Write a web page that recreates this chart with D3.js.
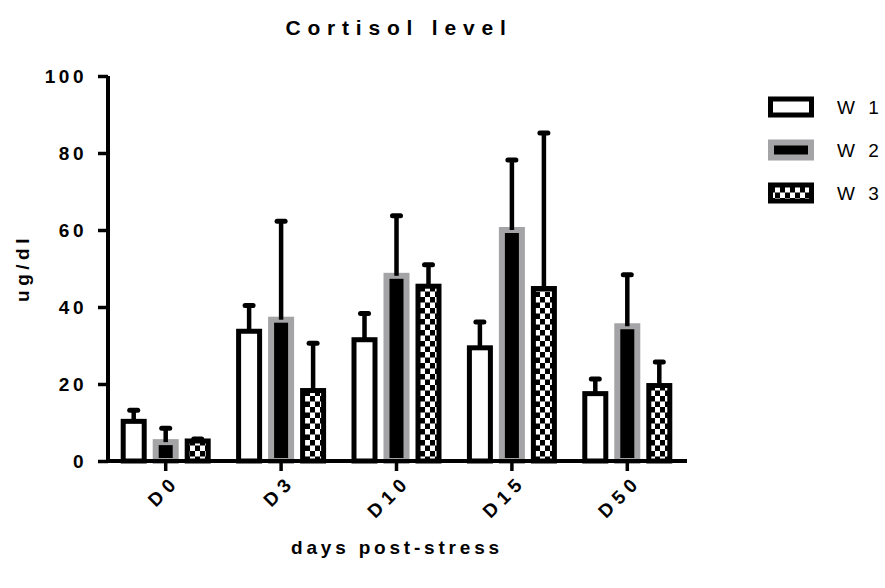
<!DOCTYPE html>
<html>
<head>
<meta charset="utf-8">
<script src="https://cdn.jsdelivr.net/npm/d3@7"></script>
<style>
  html, body { margin: 0; padding: 0; background: #fff; }
  svg { display: block; font-family: "Liberation Sans", Arial, sans-serif; }
</style>
</head>
<body>
<svg id="chart" width="885" height="588"></svg>
<script>
// ---- data ----
const categories = ["D0", "D3", "D10", "D15", "D50"];
const seriesNames = ["W 1", "W 2", "W 3"];
const meanW1 = [10.3, 33.7, 31.5, 29.4, 17.5];
const meanW2 = [4.9, 36.7, 48.1, 60.0, 35.0];
const meanW3 = [5.2, 18.3, 45.4, 44.8, 19.6];
const errTopW1 = [13.2, 40.4, 38.3, 36.1, 21.3];
const errTopW2 = [8.5, 62.3, 63.7, 78.2, 48.4];
const errTopW3 = [5.7, 30.6, 51.0, 85.2, 25.7];
const yTicks = [0, 20, 40, 60, 80, 100];

const means = [meanW1, meanW2, meanW3];
const errTops = [errTopW1, errTopW2, errTopW3];

const svg = d3.select("#chart");

// patterns
const defs = svg.append("defs");
const pat = defs.append("pattern").attr("id", "checker")
  .attr("patternUnits", "userSpaceOnUse").attr("width", 10).attr("height", 11);
pat.append("rect").attr("width", 10).attr("height", 11).attr("fill", "#fff");
pat.append("rect").attr("x", 0).attr("y", 0).attr("width", 5).attr("height", 5.5).attr("fill", "#000");
pat.append("rect").attr("x", 5).attr("y", 5.5).attr("width", 5).attr("height", 5.5).attr("fill", "#000");

const styles = [
  { fill: "#fff", stroke: "#000", sw: 5 },
  { fill: "#000", stroke: "#a4a4a6", sw: 6 },
  { fill: "url(#checker)", stroke: "#000", sw: 5 }
];

// scales
const x = d3.scaleBand().domain(categories).range([108, 685]).paddingInner(0).paddingOuter(0);
const xs = d3.scalePoint().domain(seriesNames).range([-32, 32]);
const y = d3.scaleLinear().domain([0, 100]).range([461, 76]);

const barOuter = 26;
const FONT = "Liberation Sans, Arial, sans-serif";

// bars
seriesNames.forEach((s, si) => {
  const st = styles[si];
  const g = svg.append("g");
  const w = barOuter - st.sw;
  g.selectAll("rect").data(categories).enter().append("rect")
    .attr("x", c => x(c) + x.bandwidth() / 2 + xs(s) - w / 2)
    .attr("y", (c, i) => y(means[si][i]))
    .attr("width", w)
    .attr("height", (c, i) => y(0) - y(means[si][i]))
    .attr("fill", st.fill)
    .attr("stroke", st.stroke)
    .attr("stroke-width", st.sw);
});

// error bars
seriesNames.forEach((s, si) => {
  const g = svg.append("g");
  categories.forEach((c, i) => {
    const cx = x(c) + x.bandwidth() / 2 + xs(s);
    g.append("line")
      .attr("x1", cx).attr("x2", cx)
      .attr("y1", y(means[si][i])).attr("y2", y(errTops[si][i]))
      .attr("stroke", "#000").attr("stroke-width", 4.5);
    g.append("line")
      .attr("x1", cx - 4).attr("x2", cx + 4)
      .attr("y1", y(errTops[si][i])).attr("y2", y(errTops[si][i]))
      .attr("stroke", "#000").attr("stroke-width", 5).attr("stroke-linecap", "round");
  });
});

// axes
const yAxis = svg.append("g").attr("transform", "translate(108,0)")
  .call(d3.axisLeft(y).tickValues(yTicks).tickSize(10).tickSizeOuter(0).tickPadding(11).tickFormat(d3.format("d")));
yAxis.select(".domain").attr("stroke-width", 4).attr("d", "M0,76V463");
yAxis.selectAll(".tick line").attr("stroke-width", 3.5);
yAxis.selectAll(".tick text").attr("font-size", 19).attr("font-weight", "bold")
  .attr("letter-spacing", 3.5).attr("fill", "#000").attr("font-family", FONT);

const xAxis = svg.append("g").attr("transform", "translate(0,461)")
  .call(d3.axisBottom(x).tickSize(10).tickSizeOuter(0));
xAxis.select(".domain").attr("stroke-width", 4).attr("d", "M106,0H687");
xAxis.selectAll(".tick line").attr("stroke-width", 3.5);
xAxis.selectAll(".tick text")
  .attr("font-size", 19).attr("font-weight", "bold").attr("letter-spacing", 5.5)
  .attr("fill", "#000").attr("font-family", FONT)
  .attr("text-anchor", "end").attr("dy", null).attr("y", 0)
  .attr("transform", "translate(15,22) rotate(-45)");

// titles
svg.append("text").attr("x", 399).attr("y", 35).attr("text-anchor", "middle")
  .attr("font-size", 21).attr("font-weight", "bold").attr("letter-spacing", 6.8)
  .text("Cortisol level");
svg.append("text").attr("x", 397).attr("y", 554).attr("text-anchor", "middle")
  .attr("font-size", 19).attr("font-weight", "bold").attr("letter-spacing", 3.8)
  .text("days post-stress");
svg.append("text").attr("transform", "translate(29,268) rotate(-90)").attr("text-anchor", "middle")
  .attr("font-size", 19).attr("font-weight", "bold").attr("letter-spacing", 4.5)
  .text("ug/dl");

// legend
const legendY = [107, 150, 193];
const lg = svg.append("g");
seriesNames.forEach((s, si) => {
  const st = styles[si];
  lg.append("rect")
    .attr("x", 768 + st.sw / 2).attr("y", legendY[si] - 10.5 + st.sw / 2)
    .attr("width", 46 - st.sw).attr("height", 21 - st.sw)
    .attr("fill", st.fill).attr("stroke", st.stroke).attr("stroke-width", st.sw);
  lg.append("text").attr("x", 837).attr("y", legendY[si] + 7)
    .attr("font-size", 19).attr("letter-spacing", 4).attr("fill", "#000")
    .text(s);
});
</script>
</body>
</html>
